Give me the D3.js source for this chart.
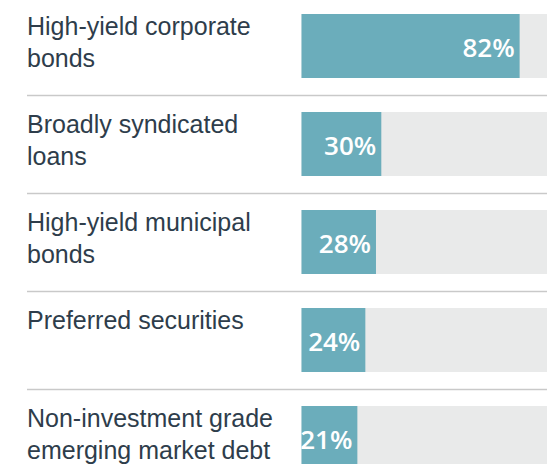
<!DOCTYPE html>
<html>
<head>
<meta charset="utf-8">
<script src="https://cdn.jsdelivr.net/npm/d3@7"></script>
<style>
  body { margin: 0; background: #fff; }
  svg { display: block; }
</style>
</head>
<body>
<svg id="chart" width="547" height="464"></svg>
<script>
// data
var categories = [
  "High-yield corporate bonds",
  "Broadly syndicated loans",
  "High-yield municipal bonds",
  "Preferred securities",
  "Non-investment grade emerging market debt"
];
var labelLines = [
  ["High-yield corporate", "bonds"],
  ["Broadly syndicated", "loans"],
  ["High-yield municipal", "bonds"],
  ["Preferred securities"],
  ["Non-investment grade", "emerging market debt"]
];
var values = [82, 30, 28, 24, 21];

var svg = d3.select("#chart");

var rows = categories.map(function(c, i) {
  return { name: c, lines: labelLines[i], value: values[i] };
});

var y = d3.scaleBand().domain(categories).range([-3, -3 + 98 * 5]).padding(0);
var x = d3.scaleLinear().domain([0, 100]).range([301.5, 567.5]);

var barTop = 17, barH = 64;

var row = svg.selectAll("g.row").data(rows).enter().append("g")
  .attr("class", "row")
  .attr("transform", function(d) { return "translate(0," + y(d.name) + ")"; });

// grey track
row.append("rect")
  .attr("x", x(0))
  .attr("y", barTop)
  .attr("width", x(100) - x(0))
  .attr("height", barH)
  .style("fill", "#e9eaea");

// value bar
row.append("rect")
  .attr("x", x(0))
  .attr("y", barTop)
  .attr("width", function(d) { return x(d.value) - x(0); })
  .attr("height", barH)
  .style("fill", "#6badbb");

row.append("text")
  .attr("x", function(d) { return x(d.value) - 5; })
  .attr("y", barTop + barH / 2 + 10.5)
  .attr("text-anchor", "end")
  .style("font-family", "'Open Sans', sans-serif")
  .style("font-weight", 600)
  .style("font-size", "26px")
  .style("fill", "#fff")
  .text(function(d) { return d.value + "%"; });

// category label, one tspan per line
var label = row.append("text")
  .attr("x", 27)
  .attr("y", barTop + 20.5)
  .style("font-family", "'Liberation Sans', Arial, sans-serif")
  .style("font-size", "25px")
  .style("fill", "#2e3d4b");

label.selectAll("tspan").data(function(d) { return d.lines; }).enter().append("tspan")
  .attr("x", 27)
  .attr("dy", function(d, i) { return i === 0 ? 0 : 32; })
  .text(function(d) { return d; });

// separators between rows
svg.selectAll("line.sep").data(categories.slice(0, -1)).enter().append("line")
  .attr("class", "sep")
  .attr("x1", 27)
  .attr("x2", 547)
  .attr("y1", function(d) { return y(d) + y.bandwidth() + 0.5; })
  .attr("y2", function(d) { return y(d) + y.bandwidth() + 0.5; })
  .style("stroke", "#c9c9c9")
  .style("stroke-width", 1.5);
</script>
</body>
</html>
